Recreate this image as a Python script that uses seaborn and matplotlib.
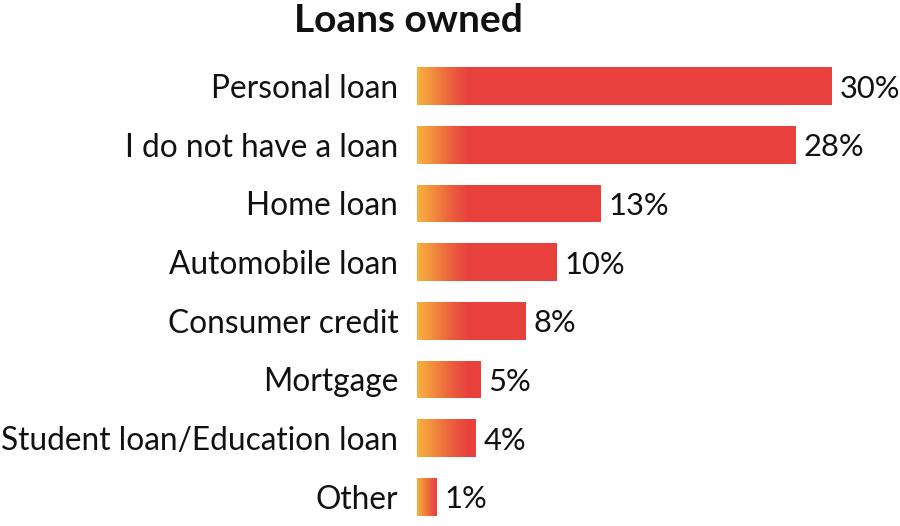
import numpy as np
import pandas as pd
import matplotlib
matplotlib.use("Agg")
import matplotlib.pyplot as plt
import seaborn as sns
from matplotlib.colors import LinearSegmentedColormap

categories = ["Personal loan", "I do not have a loan", "Home loan", "Automobile loan",
              "Consumer credit", "Mortgage", "Student loan/Education loan", "Other"]
bar_values = [30.0, 27.4, 13.3, 10.1, 7.9, 4.6, 4.3, 1.4]
value_labels = ["30%", "28%", "13%", "10%", "8%", "5%", "4%", "1%"]
title = "Loans owned"

sns.set_theme(style="white")
plt.rcParams["font.family"] = ["Lato", "DejaVu Sans"]

df = pd.DataFrame({"category": categories, "value": bar_values})

W, H = 900, 526
fig = plt.figure(figsize=(W / 100, H / 100), dpi=100)
ax = fig.add_axes([417 / W, 0.0, 414.7 / W, 1 - 56.85 / H])

RED = "#E8403D"
sns.barplot(data=df, y="category", x="value", orient="h", color=RED,
            width=0.642, saturation=1, ax=ax, edgecolor="none", linewidth=0)

FS = 22.8
ax.set_xlim(0, 30)
ax.set_ylim(7.5, -0.5)
ax.set_xlabel("")
ax.set_ylabel("")
ax.set_xticks([])
for s in ax.spines.values():
    s.set_visible(False)
ax.tick_params(axis="y", length=0, pad=13.5, labelsize=FS, labelcolor="#111111")

cmap = LinearSegmentedColormap.from_list("grad", ["#F9B33F", "#F08A3E", "#EB5E3D", RED])
grad = np.linspace(0, 1, 256).reshape(1, -1)
GRAD_LEN = 3.7
for p, lab in zip(ax.patches, value_labels):
    x0, y0 = p.get_x(), p.get_y()
    w, h = p.get_width(), p.get_height()
    gl = min(w, GRAD_LEN)
    im = ax.imshow(grad, cmap=cmap, aspect="auto", extent=(x0, x0 + gl, y0 + h + 0.05, y0 - 0.05),
                   interpolation="bilinear", zorder=p.get_zorder() + 0.1)
    im.set_clip_path(p)
    ax.text(x0 + w + 0.55, y0 + h / 2, lab, va="center_baseline", ha="left",
            fontsize=22.2, color="#111111", clip_on=False)

ax.set_xlim(0, 30)
ax.set_ylim(7.5, -0.5)

fig.text(408 / W, 1 - 32.5 / H, title, ha="center", va="baseline",
         fontsize=28, fontweight="bold", color="#111111")

fig.savefig("out.png", dpi=100, facecolor="white")
